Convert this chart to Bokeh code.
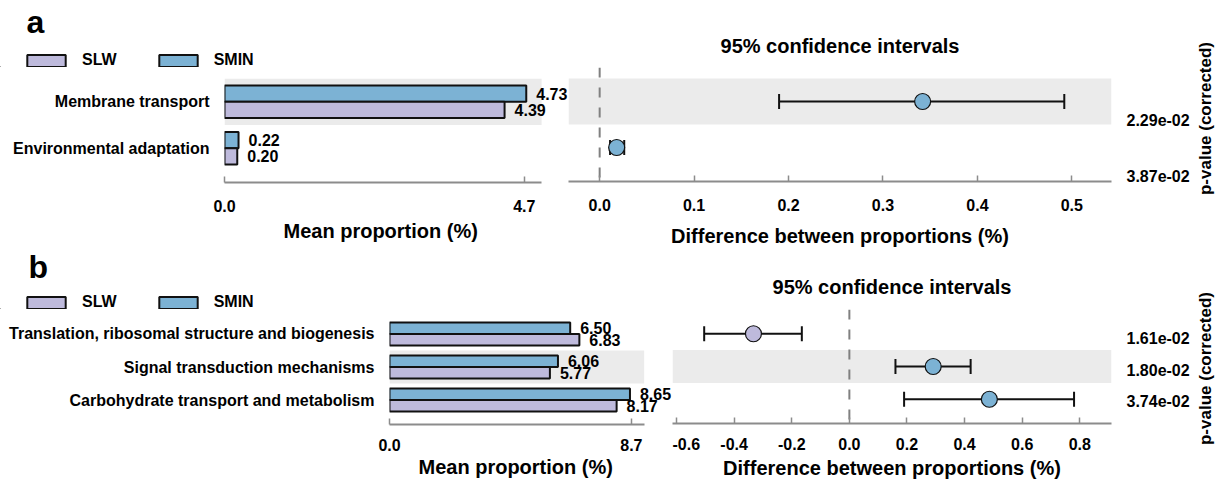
import math
from bokeh.plotting import figure
from bokeh.models import (Range1d, FixedTicker, NumeralTickFormatter, BoxAnnotation, Span,
                          Whisker, TeeHead, ColumnDataSource, LinearAxis, Legend, LegendItem,
                          Title)
from bokeh.layouts import row, column
from bokeh.embed import file_html
from bokeh.resources import INLINE
from bokeh.core.properties import value

# ---------------- data ----------------
groups = ["SLW", "SMIN"]

cats_a = ["Membrane transport", "Environmental adaptation"]
slw_a = [4.39, 0.20]
smin_a = [4.73, 0.22]
diff_a = [0.342, 0.018]
ci_lo_a = [0.190, 0.011]
ci_hi_a = [0.492, 0.026]
pval_a = ["2.29e-02", "3.87e-02"]
bar_ticks_a = [0.0, 4.7]
ci_ticks_a = [0.0, 0.1, 0.2, 0.3, 0.4, 0.5]

cats_b = ["Translation, ribosomal structure and biogenesis",
          "Signal transduction mechanisms",
          "Carbohydrate transport and metabolism"]
slw_b = [6.83, 5.77, 8.17]
smin_b = [6.50, 6.06, 8.65]
diff_b = [-0.333, 0.291, 0.486]
ci_lo_b = [-0.504, 0.160, 0.190]
ci_hi_b = [-0.165, 0.421, 0.780]
pval_b = ["1.61e-02", "1.80e-02", "3.74e-02"]
bar_ticks_b = [0.0, 8.7]
ci_ticks_b = [-0.6, -0.4, -0.2, 0.0, 0.2, 0.4, 0.6, 0.8]

# ---------------- style ----------------
FONT = "Liberation Sans"
SLW_C = "#bebadc"
SMIN_C = "#7cb2d4"
EDGE = "#111111"
BAND = "#ebebeb"
AXIS_C = "#8c8c8c"
PAD = 0.74
BAR_H = 0.35
TOTAL_W = 1215
PL_W = 22


def style_xaxis(ax, standoff):
    ax.axis_line_color = AXIS_C
    ax.axis_line_width = 2
    ax.major_tick_in = 6
    ax.major_tick_out = 0
    ax.major_tick_line_color = AXIS_C
    ax.major_tick_line_width = 1.5
    ax.minor_tick_line_color = None
    ax.major_label_standoff = standoff
    ax.major_label_text_font = FONT
    ax.major_label_text_font_size = "16px"
    ax.major_label_text_font_style = "bold"
    ax.major_label_text_color = "black"


def style_label(ax, label, label_standoff):
    ax.axis_label = label
    ax.axis_label_standoff = label_standoff
    ax.axis_label_text_font = FONT
    ax.axis_label_text_font_size = "20px"
    ax.axis_label_text_font_style = "bold"
    ax.axis_label_text_color = "black"


def make_panel(letter, cats, slw, smin, diff, lo, hi, pvals, bar_ticks, ci_ticks, g):
    n = len(cats)
    H, top, bot = g["H"], g["top"], g["bot"]
    split = g["split"]
    ys = [n - 1 - i for i in range(n)]
    yr = (-PAD, n - 1 + PAD)

    # ---- header: panel letter + legend ----
    hdr = figure(width=split, height=top, x_range=Range1d(0, split), y_range=Range1d(0, top),
                 x_axis_type=None, y_axis_type=None, title=None,
                 output_backend="svg", toolbar_location=None,
                 min_border_left=0, min_border_right=0, min_border_top=0, min_border_bottom=0,
                 outline_line_color=None)
    hdr.grid.visible = False
    hdr.text(x=[g["letter_x"]], y=[g["letter_y"]], text=[letter],
             text_font=value(FONT), text_font_size="32px", text_font_style="bold",
             text_baseline="alphabetic", text_align="left", text_color="black")
    # legend proxies (kept far outside the visible header range)
    d1 = hdr.hbar(y=[-1000], left=[-1000], right=[-999], height=1, fill_color=SLW_C,
                  line_color=EDGE, line_width=2)
    d2 = hdr.hbar(y=[-1000], left=[-1000], right=[-999], height=1, fill_color=SMIN_C,
                  line_color=EDGE, line_width=2)
    hdr.add_layout(Legend(items=[LegendItem(label=groups[0], renderers=[d1]),
                                 LegendItem(label=groups[1], renderers=[d2])],
                          orientation="horizontal", location=(22, -2),
                          glyph_width=48, glyph_height=15, label_standoff=12, spacing=37,
                          padding=0, margin=0, border_line_color=None,
                          background_fill_alpha=0,
                          label_text_font=FONT, label_text_font_size="16px",
                          label_text_font_style="bold", label_text_color="black"), "center")

    # ---- bar chart ----
    src = ColumnDataSource(dict(
        y=ys,
        y_smin=[y + BAR_H / 2 for y in ys],
        y_slw=[y - BAR_H / 2 for y in ys],
        slw=slw, smin=smin,
        slw_t=["%.2f" % v for v in slw],
        smin_t=["%.2f" % v for v in smin],
    ))
    pb = figure(width=split, height=H - top, x_range=Range1d(0, g["bar_end"]),
                y_range=Range1d(*yr), title=None,
                output_backend="svg", toolbar_location=None,
                min_border_left=g["bar_left"], min_border_right=0,
                min_border_top=0, min_border_bottom=bot, outline_line_color=None)
    pb.grid.visible = False
    for r in range(n):
        if r % 2 == 1:
            pb.add_layout(BoxAnnotation(left=0, right=g["bar_bound"], bottom=r - 0.5, top=r + 0.5,
                                        fill_color=BAND, fill_alpha=1, line_color=None,
                                        level="underlay"))
    pb.hbar(y="y_smin", left=0, right="smin", height=BAR_H, source=src,
            fill_color=SMIN_C, line_color=EDGE, line_width=2)
    pb.hbar(y="y_slw", left=0, right="slw", height=BAR_H, source=src,
            fill_color=SLW_C, line_color=EDGE, line_width=2)
    for col, yc in (("smin", "y_smin"), ("slw", "y_slw")):
        pb.text(x=col, y=yc, text=col + "_t", source=src, x_offset=10,
                text_font=value(FONT), text_font_size="16px", text_font_style="bold",
                text_baseline="middle", text_align="left", text_color="black")
    yax = pb.yaxis[0]
    yax.ticker = FixedTicker(ticks=ys)
    yax.major_label_overrides = {y: c for y, c in zip(ys, cats)}
    yax.axis_line_color = None
    yax.major_tick_line_color = None
    yax.minor_tick_line_color = None
    yax.major_label_standoff = 9
    yax.major_label_text_font = FONT
    yax.major_label_text_font_size = "16px"
    yax.major_label_text_font_style = "bold"
    yax.major_label_text_color = "black"
    xax = pb.xaxis[0]
    xax.ticker = FixedTicker(ticks=bar_ticks)
    xax.formatter = NumeralTickFormatter(format="0.0")
    xax.bounds = (0, g["bar_bound"])
    style_xaxis(xax, g["tick_standoff"])
    # axis title centred under the drawn axis extent (not the wider frame)
    pb.add_layout(Title(text="Mean proportion (%)", align="left", offset=g["bar_title_off"],
                        vertical_align="top", standoff=g["bar_title_standoff"],
                        text_font=FONT, text_font_size="20px", text_font_style="bold",
                        text_color="black"), "below")

    # ---- confidence intervals ----
    csrc = ColumnDataSource(dict(
        y=ys, diff=diff, lo=lo, hi=hi,
        color=[SMIN_C if d > 0 else SLW_C for d in diff],
    ))
    ci_w = TOTAL_W - PL_W - split
    pc = figure(width=ci_w, height=H, x_range=Range1d(*g["ci_range"]),
                y_range=Range1d(*yr), y_axis_location=None,
                output_backend="svg", toolbar_location=None,
                min_border_left=0, min_border_right=g["ci_right"],
                min_border_top=top, min_border_bottom=bot, outline_line_color=None)
    pc.grid.visible = False
    pc.title.text = "95% confidence intervals"
    pc.title.align = "center"
    pc.title.text_font = FONT
    pc.title.text_font_size = "20px"
    pc.title.text_font_style = "bold"
    pc.title.text_color = "black"
    pc.title.standoff = g["title_standoff"]
    for r in range(n):
        if r % 2 == 1:
            pc.add_layout(BoxAnnotation(bottom=r - 0.5, top=r + 0.5, fill_color=BAND,
                                        fill_alpha=1, line_color=None, level="underlay"))
    pc.add_layout(Span(location=0, dimension="height", line_color="#808080", line_width=2,
                       line_dash="10 10", level="underlay"))
    pc.add_layout(Whisker(source=csrc, base="y", lower="lo", upper="hi", dimension="width",
                          line_width=2, line_color=EDGE, level="underlay",
                          upper_head=TeeHead(size=15, line_width=2, line_color=EDGE),
                          lower_head=TeeHead(size=15, line_width=2, line_color=EDGE)))
    pc.scatter("diff", "y", source=csrc, size=16, fill_color="color", line_color=EDGE,
               line_width=1.2)
    cax = pc.xaxis[0]
    cax.ticker = FixedTicker(ticks=ci_ticks)
    cax.formatter = NumeralTickFormatter(format="0.0")
    style_xaxis(cax, g["tick_standoff"])
    style_label(cax, "Difference between proportions (%)", g["label_standoff"])

    pc.extra_y_ranges = {"p": Range1d(*g["p_range"])}
    pax = LinearAxis(y_range_name="p", ticker=FixedTicker(ticks=ys),
                     major_label_overrides={y: p for y, p in zip(ys, pvals)})
    pax.axis_line_color = None
    pax.major_tick_line_color = None
    pax.minor_tick_line_color = None
    pax.major_label_standoff = 9
    pax.major_label_text_font = FONT
    pax.major_label_text_font_size = "16px"
    pax.major_label_text_font_style = "bold"
    pax.major_label_text_color = "black"
    pc.add_layout(pax, "right")

    # ---- rotated p-value title (own canvas, full panel height) ----
    pl = figure(width=PL_W, height=H, x_range=Range1d(0, PL_W), y_range=Range1d(0, H),
                x_axis_type=None, y_axis_type=None, title=None,
                output_backend="svg", toolbar_location=None,
                min_border_left=0, min_border_right=0, min_border_top=0, min_border_bottom=0,
                outline_line_color=None)
    pl.grid.visible = False
    pl.text(x=[12], y=[H - g["plabel_c"]], text=["p-value (corrected)"], angle=math.pi / 2,
            text_font=value(FONT), text_font_size="17px", text_font_style="bold",
            text_align="center", text_baseline="middle", text_color="black")

    return row(column(hdr, row(pb)), pc, column(pl))


geo_a = dict(H=249, top=67, bot=65, split=568, bar_left=224, bar_end=5.392,
             bar_bound=4.97, ci_range=(-0.033, 0.542), ci_right=82, p_range=(-0.105, 1.947),
             tick_standoff=17, label_standoff=11, title_standoff=21,
             bar_title_off=59, bar_title_standoff=11, plabel_c=118,
             letter_x=26, letter_y=46)
geo_b = dict(H=232, top=60, bot=55, split=672, bar_left=389, bar_end=10.18,
             bar_bound=9.16, ci_range=(-0.614, 0.910), ci_right=82, p_range=(-0.705, 2.895),
             tick_standoff=14, label_standoff=4, title_standoff=23,
             bar_title_off=29, bar_title_standoff=4, plabel_c=119,
             letter_x=28, letter_y=43)

panel_a = make_panel("a", cats_a, slw_a, smin_a, diff_a, ci_lo_a, ci_hi_a, pval_a,
                     bar_ticks_a, ci_ticks_a, geo_a)
panel_b = make_panel("b", cats_b, slw_b, smin_b, diff_b, ci_lo_b, ci_hi_b, pval_b,
                     bar_ticks_b, ci_ticks_b, geo_b)

layout = column(panel_a, panel_b)
open("out.html", "w").write(file_html(layout, INLINE))
